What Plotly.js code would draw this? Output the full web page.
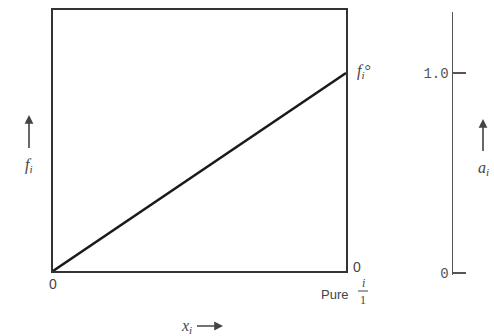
<!DOCTYPE html>
<html>
<head>
<meta charset="utf-8">
<script src="https://cdn.plot.ly/plotly-3.0.1.min.js"></script>
<style>
  html, body { margin: 0; padding: 0; background: #fff; }
  #chart { width: 494px; height: 336px; }
</style>
</head>
<body>
<div id="chart"></div>
<script>
// Ideal (Lewis–Randall) behaviour: fugacity rises linearly with mole fraction
// from zero up to the pure-component fugacity f_i° at x_i = 1.
var moleFraction = [0, 1];
var fugacity = [0, 1];          // in units of f_i°
var xTickVals = [0];
var xTickText = ['0'];
var activityTickVals = [0, 1.0];
var activityTickText = ['0', '1.0'];

// Plot-area geometry in pixels, used to place free-floating labels
var W = 494, H = 336;
var M = { l: 53, r: 30, t: 10, b: 61 };
var PW = W - M.l - M.r, PH = H - M.t - M.b;
var BOTTOM = H - M.b;   // pixel row of the paper bottom
function px(x) { return (x - M.l) / PW; }
function py(y) { return (BOTTOM - y) / PH; }

var ink = '#333';
var grey = '#555';
var sans = 'Liberation Sans, Arial, sans-serif';
var serif = 'Liberation Serif, Times New Roman, serif';
var mono = 'Liberation Mono, Courier New, monospace';

var traces = [
  {
    x: moleFraction, y: fugacity,
    type: 'scatter', mode: 'lines',
    line: { color: '#1a1a1a', width: 2.5 },
    hoverinfo: 'skip', showlegend: false
  },
  {
    // carrier for the separate activity scale
    x: [], y: [], xaxis: 'x2', yaxis: 'y2',
    type: 'scatter', mode: 'lines', showlegend: false, hoverinfo: 'skip'
  }
];

function txt(x, y, text, font, xanchor) {
  return {
    xref: 'paper', yref: 'paper', x: px(x), y: py(y),
    text: text, showarrow: false,
    xanchor: xanchor || 'center', yanchor: 'middle',
    font: font
  };
}
// label with an arrow running from it to (xTip, yTip)
function arrowLabel(xTip, yTip, ax, ay, text, font, gap) {
  return {
    xref: 'paper', yref: 'paper', x: px(xTip), y: py(yTip),
    ax: ax, ay: ay, text: text, font: font, showarrow: true,
    arrowhead: 2, arrowsize: 1.1, arrowwidth: 1.6, arrowcolor: '#444',
    startstandoff: gap, standoff: 0
  };
}

var labelFont = { family: serif, size: 16, color: '#444' };

// activity scale: 200 px per unit, zero at row 273, axis top at row 12
var aPerPx = 1 / 200;
var aMin = -(BOTTOM - 273) * aPerPx;
var aMax = (273 - 12) * aPerPx;

var layout = {
  width: W, height: H,
  margin: M,
  paper_bgcolor: '#fff', plot_bgcolor: 'rgba(0,0,0,0)',
  showlegend: false,
  xaxis: {
    domain: [0, (346 - M.l) / PW],
    range: [0, 1], fixedrange: true,
    showline: true, mirror: true, linecolor: ink, linewidth: 1.6,
    showgrid: false, zeroline: false, ticks: '',
    tickvals: xTickVals, ticktext: xTickText,
    tickfont: { family: sans, size: 14, color: '#444' }
  },
  yaxis: {
    domain: [py(271), 1],
    range: [0, 1.318], fixedrange: true,
    showline: true, mirror: true, linecolor: ink, linewidth: 1.6,
    showgrid: false, zeroline: false, ticks: '', showticklabels: false
  },
  xaxis2: {
    domain: [px(453), 1], anchor: 'y2', visible: false, range: [0, 1]
  },
  yaxis2: {
    anchor: 'x2', side: 'left',
    domain: [0, py(12)],
    range: [aMin, aMax], fixedrange: true,
    showline: true, linecolor: grey, linewidth: 1.5,
    showgrid: false, zeroline: false,
    ticks: 'inside', ticklen: 13, tickwidth: 1.5, tickcolor: grey,
    tickvals: activityTickVals, ticktext: activityTickText,
    tickfont: { family: mono, size: 14, color: '#555' }
  },
  annotations: [
    txt(351, 267, '0', { family: sans, size: 14, color: '#444' }, 'left'),
    txt(355, 72, '<i>f<sub>i</sub></i>°', labelFont, 'left'),
    txt(350, 294, 'Pure', { family: sans, size: 13, color: '#444' }, 'right'),
    txt(363, 283, '<i>i</i>', { family: serif, size: 12, color: '#444' }),
    txt(363, 300, '1', { family: serif, size: 12, color: '#444' }),
    arrowLabel(29, 115, 0, 50, '<i>f<sub>i</sub></i>', labelFont, 6),
    arrowLabel(483, 119, 0, 49, '<i>a<sub>i</sub></i>', labelFont, 6),
    arrowLabel(223, 326, -37, 0, '<i>x<sub>i</sub></i>', labelFont, 4)
  ],
  shapes: [
    {
      type: 'line', xref: 'paper', yref: 'paper',
      x0: px(358), x1: px(368), y0: py(291), y1: py(291),
      line: { color: '#444', width: 1 }
    }
  ]
};

Plotly.newPlot('chart', traces, layout, { staticPlot: true, displayModeBar: false });
</script>
</body>
</html>
